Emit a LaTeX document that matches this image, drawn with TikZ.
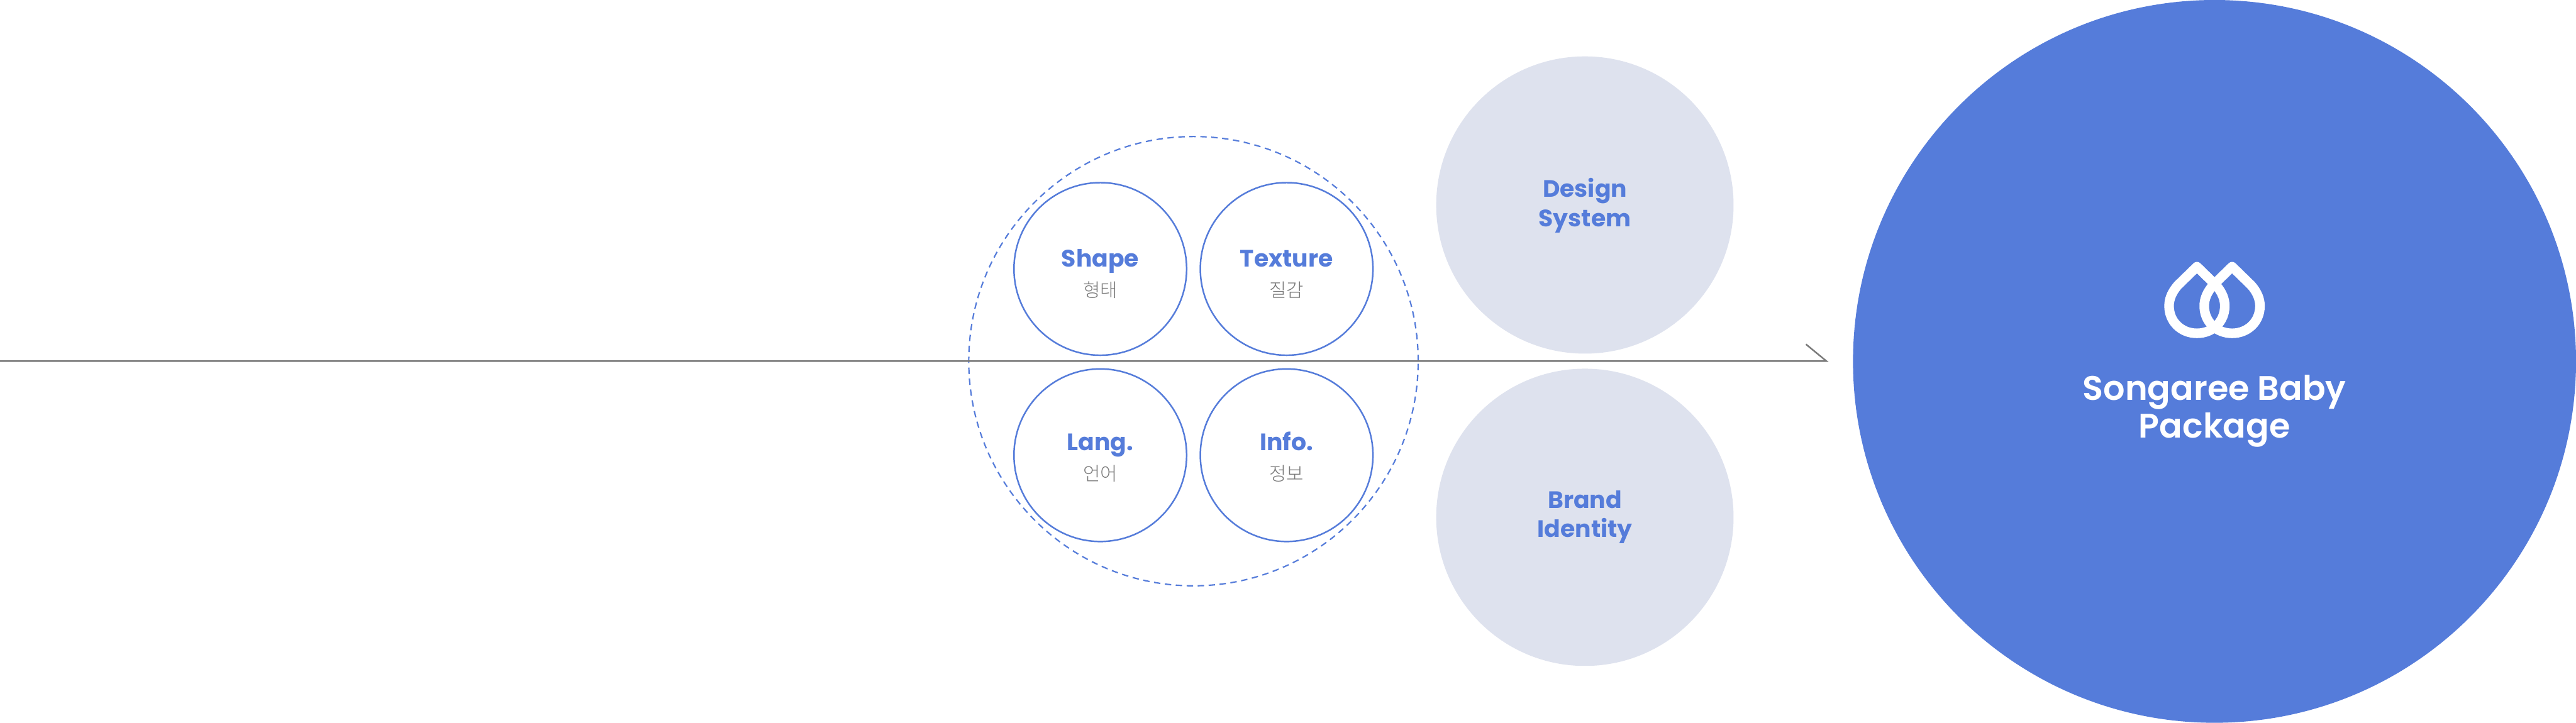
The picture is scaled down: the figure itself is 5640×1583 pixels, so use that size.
\documentclass[tikz,border=0pt]{standalone}
\usepackage{fontspec}
\newfontfamily\popsemi{Poppins SemiBold}
\newfontfamily\popbold{Poppins Bold}
\newfontfamily\krfont{Noto Sans CJK KR Light}
\definecolor{blueC}{HTML}{557CDA}
\definecolor{paleC}{HTML}{DEE2EE}
\definecolor{greyC}{HTML}{7A7A7A}
\tikzset{
  smallc/.style={circle,draw=blueC,line width=3.4pt,minimum size=378pt,inner sep=0pt,fill=white},
  palec/.style={circle,fill=paleC,minimum size=651pt,inner sep=0pt},
  bigc/.style={circle,fill=blueC,minimum size=1583pt,inner sep=0pt},
  ring/.style={circle,draw=blueC,line width=3pt,dash pattern=on 14pt off 10pt,minimum size=984pt,inner sep=0pt},
  entxt/.style={anchor=base,inner sep=0pt,text=blueC,font={\fontsize{52}{52}\popbold}},
  krtxt/.style={anchor=base,inner sep=0pt,text=greyC,font={\fontsize{41}{41}\krfont}},
  bigtxt/.style={anchor=base,inner sep=0pt,text=white,font={\fontsize{74.5}{74.5}\popsemi}},
  flow/.style={draw=greyC,line width=3.4pt},
  logo/.style={draw=white,line width=21pt,line join=round},
}
\begin{document}
\begin{tikzpicture}[x=1pt,y=-1pt]
\useasboundingbox (0,0) rectangle (5640,1583);
\fill[white] (0,0) rectangle (5640,1583);
\node[bigc] (big) at (4848.5,791.5) {};
\node[palec] (design) at (3470,449) {};
\node[palec] (brand) at (3470,1133) {};
\node[ring] (ring) at (2613,791) {};
\node[smallc] (shape) at (2409,589) {};
\node[smallc] (texture) at (2817,589) {};
\node[smallc] (lang) at (2409,997) {};
\node[smallc] (info) at (2817,997) {};
\coordinate (start) at (0,791);
\coordinate (tip) at (3999,791);
\coordinate (barb) at (3954,754);
\draw[flow] (start) -- (tip) -- (barb);
\node[entxt] (t1) at (2409,585) {Shape};
\node[krtxt] (k1) at (2409,651) {형태};
\node[entxt] (t2) at (2817,585) {Texture};
\node[krtxt] (k2) at (2817,651) {질감};
\node[entxt] (t3) at (2409,987) {Lang.};
\node[krtxt] (k3) at (2409,1053) {언어};
\node[entxt] (t4) at (2817,987) {Info.};
\node[krtxt] (k4) at (2817,1053) {정보};
\node[entxt] (d1) at (3470,432) {Design};
\node[entxt] (d2) at (3470,496) {System};
\node[entxt] (b1) at (3470,1113) {Brand};
\node[entxt] (b2) at (3470,1177) {Identity};
\node[bigtxt] (s1) at (4848.5,876) {Songaree Baby};
\node[bigtxt] (s2) at (4848.5,959) {Package};
\draw[logo] (4810,584) -- (4768,625) .. controls (4755,640) and (4749,655) .. (4749,670) .. controls (4749,705) and (4776,730) .. (4810,730) .. controls (4844,730) and (4871,705) .. (4871,670) .. controls (4871,655) and (4865,640) .. (4852,625) -- cycle;
\draw[logo] (4887,584) -- (4845,625) .. controls (4832,640) and (4826,655) .. (4826,670) .. controls (4826,705) and (4853,730) .. (4887,730) .. controls (4921,730) and (4948,705) .. (4948,670) .. controls (4948,655) and (4942,640) .. (4929,625) -- cycle;
\end{tikzpicture}
\end{document}
